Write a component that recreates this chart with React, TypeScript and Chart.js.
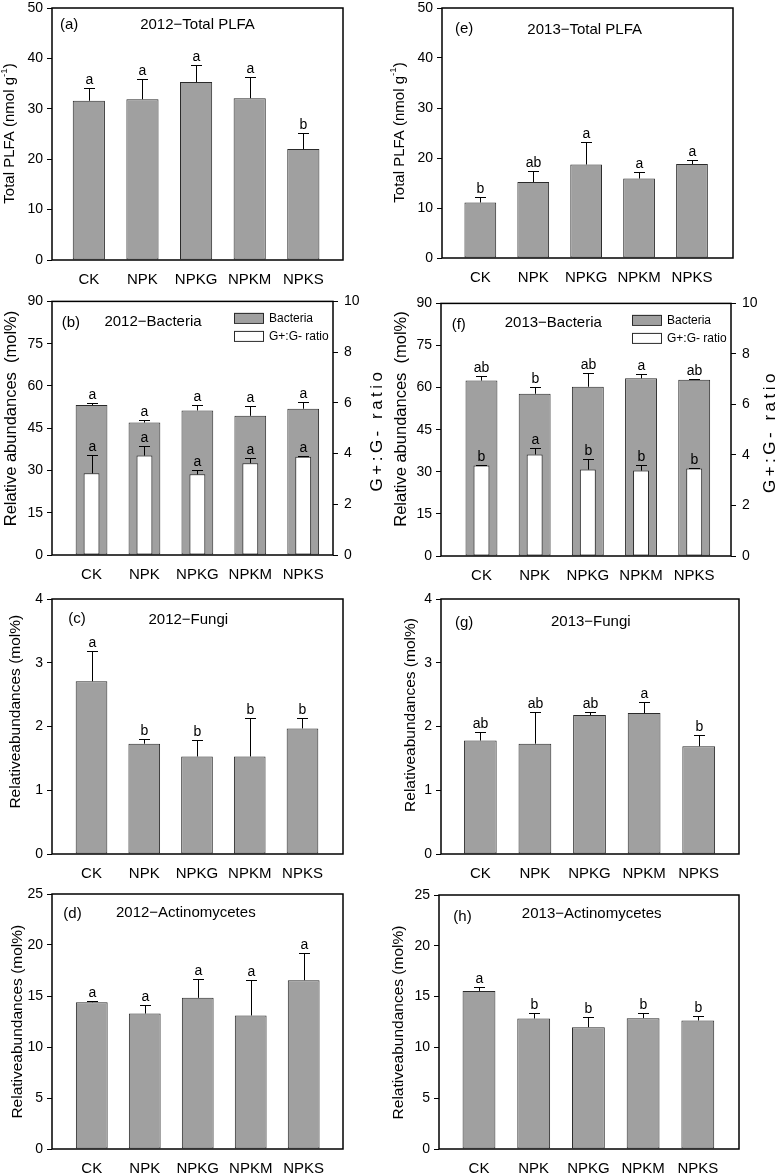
import React, { useEffect, useRef } from "react";
import { Chart, registerables } from "chart.js";

Chart.register(...registerables);

// ---------------- DATA ----------------
const categories = ["CK", "NPK", "NPKG", "NPKM", "NPKS"];

// (a) 2012 Total PLFA
const plfa2012 = [31.6, 31.9, 35.3, 32.1, 22.0];
const plfa2012Err = [2.6, 4.0, 3.3, 4.3, 3.2];
const plfa2012Sig = ["a", "a", "a", "a", "b"];

// (e) 2013 Total PLFA
const plfa2013 = [11.1, 15.2, 18.7, 15.9, 18.8];
const plfa2013Err = [1.1, 2.3, 4.5, 1.2, 0.8];
const plfa2013Sig = ["b", "ab", "a", "a", "a"];

// (b) 2012 Bacteria + G+:G- ratio
const bact2012 = [53.2, 47.0, 51.3, 49.4, 51.9];
const bact2012Err = [0.8, 1.0, 1.9, 3.5, 2.5];
const bact2012Sig = ["a", "a", "a", "a", "a"];
const ratio2012 = [3.22, 3.92, 3.18, 3.62, 3.87];
const ratio2012Err = [0.71, 0.36, 0.16, 0.21, 0.02];
const ratio2012Sig = ["a", "a", "a", "a", "a"];

// (f) 2013 Bacteria + G+:G- ratio
const bact2013 = [62.5, 57.8, 60.3, 63.3, 62.8];
const bact2013Err = [1.7, 2.3, 5.0, 1.6, 0.4];
const bact2013Sig = ["ab", "b", "ab", "a", "ab"];
const ratio2013 = [3.58, 4.02, 3.42, 3.38, 3.46];
const ratio2013Err = [0.02, 0.27, 0.42, 0.23, 0.02];
const ratio2013Sig = ["b", "a", "b", "b", "b"];

// (c) 2012 Fungi
const fungi2012 = [2.71, 1.73, 1.53, 1.53, 1.97];
const fungi2012Err = [0.48, 0.08, 0.26, 0.61, 0.16];
const fungi2012Sig = ["a", "b", "b", "b", "b"];

// (g) 2013 Fungi
const fungi2013 = [1.78, 1.73, 2.18, 2.21, 1.69];
const fungi2013Err = [0.13, 0.49, 0.04, 0.18, 0.18];
const fungi2013Sig = ["ab", "ab", "ab", "a", "b"];

// (d) 2012 Actinomycetes
const actino2012 = [14.39, 13.28, 14.82, 13.09, 16.55];
const actino2012Err = [0.13, 0.82, 1.82, 3.52, 2.67];
const actino2012Sig = ["a", "a", "a", "a", "a"];

// (h) 2013 Actinomycetes
const actino2013 = [15.56, 12.84, 11.99, 12.88, 12.65];
const actino2013Err = [0.4, 0.59, 1.02, 0.49, 0.45];
const actino2013Sig = ["a", "b", "b", "b", "b"];

// ---------------- STYLE / LAYOUT ----------------
const FONT = '"Liberation Sans", Arial, Helvetica, sans-serif';
const GRAY = "#a0a0a0";
const EDGE = "#2a2a2a";

type Seg = { t: string; sup?: boolean };
type Series = {
  name: string;
  values: number[];
  errors: number[];
  letters: string[];
  fill: string;
  axis: string;
  pct: number;
};
type PanelCfg = {
  col: number;
  area: { l: number; t: number; r: number; b: number };
  xr: [number, number];
  yMax: number;
  yStep: number;
  y2?: boolean;
  yTitle: Seg[];
  yTitleSize: number;
  yTitlePos: [number, number];
  y2TitlePos?: [number, number];
  label: string;
  labelPos: [number, number];
  title: string;
  titlePos: [number, number];
  series: Series[];
};

const plfaTitle: Seg[] = [{ t: "Total PLFA (nmol g" }, { t: "-1", sup: true }, { t: ")" }];
const bactTitle: Seg[] = [{ t: "Relative abundances  (mol%)" }];
const relTitle: Seg[] = [{ t: "Relativeabundances (mol%)" }];
const ratioTitle: Seg[] = [{ t: "G+:G- ratio" }];

const gray = (name: string, values: number[], errors: number[], letters: string[]): Series => ({
  name, values, errors, letters, fill: GRAY, axis: "y", pct: 0.6,
});
const white = (name: string, values: number[], errors: number[], letters: string[]): Series => ({
  name, values, errors, letters, fill: "#ffffff", axis: "y2", pct: 0.3,
});

const panels: PanelCfg[] = [
  {
    col: 0, area: { l: 52, t: 8, r: 343, b: 260 }, xr: [-0.687, 4.74], yMax: 50, yStep: 10,
    yTitle: plfaTitle, yTitleSize: 15, yTitlePos: [10, 133.5],
    label: "(a)", labelPos: [8, 17], title: "2012\u2212Total PLFA", titlePos: [145.5, 17],
    series: [gray("Total PLFA", plfa2012, plfa2012Err, plfa2012Sig)],
  },
  {
    col: 1, area: { l: 442, t: 8, r: 733, b: 258 }, xr: [-0.724, 4.775], yMax: 50, yStep: 10,
    yTitle: plfaTitle, yTitleSize: 15, yTitlePos: [399.5, 132.5],
    label: "(e)", labelPos: [13, 21], title: "2013\u2212Total PLFA", titlePos: [142.7, 22],
    series: [gray("Total PLFA", plfa2013, plfa2013Err, plfa2013Sig)],
  },
  {
    col: 0, area: { l: 52, t: 301, r: 333, b: 555 }, xr: [-0.747, 4.563], yMax: 90, yStep: 15, y2: true,
    yTitle: bactTitle, yTitleSize: 16.5, yTitlePos: [11, 418.5], y2TitlePos: [377, 431.7],
    label: "(b)", labelPos: [9.7, 21.3], title: "2012\u2212Bacteria", titlePos: [101, 20.7],
    series: [
      gray("Bacteria", bact2012, bact2012Err, bact2012Sig),
      white("G+:G- ratio", ratio2012, ratio2012Err, ratio2012Sig),
    ],
  },
  {
    col: 1, area: { l: 441, t: 303, r: 731, b: 556 }, xr: [-0.761, 4.692], yMax: 90, yStep: 15, y2: true,
    yTitle: bactTitle, yTitleSize: 16.5, yTitlePos: [401, 419], y2TitlePos: [770, 433.3],
    label: "(f)", labelPos: [10.7, 21], title: "2013\u2212Bacteria", titlePos: [112.3, 19.3],
    series: [
      gray("Bacteria", bact2013, bact2013Err, bact2013Sig),
      white("G+:G- ratio", ratio2013, ratio2013Err, ratio2013Sig),
    ],
  },
  {
    col: 0, area: { l: 52, t: 599, r: 343, b: 854 }, xr: [-0.749, 4.768], yMax: 4, yStep: 1,
    yTitle: relTitle, yTitleSize: 15.5, yTitlePos: [15.8, 711.7],
    label: "(c)", labelPos: [16.3, 20], title: "2012\u2212Fungi", titlePos: [136.3, 21],
    series: [gray("Fungi", fungi2012, fungi2012Err, fungi2012Sig)],
  },
  {
    col: 1, area: { l: 441, t: 599, r: 739, b: 854 }, xr: [-0.72, 4.738], yMax: 4, yStep: 1,
    yTitle: relTitle, yTitleSize: 15.5, yTitlePos: [410.8, 715],
    label: "(g)", labelPos: [14, 24.3], title: "2013\u2212Fungi", titlePos: [149.8, 23.3],
    series: [gray("Fungi", fungi2013, fungi2013Err, fungi2013Sig)],
  },
  {
    col: 0, area: { l: 52, t: 894, r: 343, b: 1149 }, xr: [-0.751, 4.742], yMax: 25, yStep: 5,
    yTitle: relTitle, yTitleSize: 15.5, yTitlePos: [17.5, 1021.7],
    label: "(d)", labelPos: [11.3, 20], title: "2012\u2212Actinomycetes", titlePos: [133.8, 19.3],
    series: [gray("Actinomycetes", actino2012, actino2012Err, actino2012Sig)],
  },
  {
    col: 1, area: { l: 439, t: 895, r: 739, b: 1149 }, xr: [-0.731, 4.753], yMax: 25, yStep: 5,
    yTitle: relTitle, yTitleSize: 15.5, yTitlePos: [399, 1022.5],
    label: "(h)", labelPos: [14.3, 21.7], title: "2013\u2212Actinomycetes", titlePos: [152.7, 19],
    series: [gray("Actinomycetes", actino2013, actino2013Err, actino2013Sig)],
  },
];

function drawRotatedSegs(
  ctx: CanvasRenderingContext2D,
  segs: Seg[],
  cx: number,
  cy: number,
  size: number,
  spacing = 0
) {
  const c: any = ctx;
  ctx.save();
  c.letterSpacing = `${spacing}px`;
  const parts = segs.map((s) => {
    const fs = s.sup ? size * 0.65 : size;
    ctx.font = `${fs}px ${FONT}`;
    return { ...s, fs, w: ctx.measureText(s.t).width };
  });
  const total = parts.reduce((a, p) => a + p.w, 0) - spacing;
  ctx.translate(cx, cy);
  ctx.rotate(-Math.PI / 2);
  ctx.fillStyle = "#000";
  ctx.textBaseline = "middle";
  ctx.textAlign = "left";
  let x = -total / 2;
  for (const p of parts) {
    ctx.font = `${p.fs}px ${FONT}`;
    ctx.fillText(p.t, x, p.sup ? -size * 0.38 : 0);
    x += p.w;
  }
  ctx.restore();
}

function Panel({ p }: { p: PanelCfg }) {
  const ref = useRef<HTMLCanvasElement>(null);
  const x0 = p.col === 0 ? 0 : 390;
  const w = p.col === 0 ? 390 : 389;
  const y0 = p.area.t - 14;
  const y1 = Math.min(p.area.b + 32, 1174);
  const h = y1 - y0;

  useEffect(() => {
    if (!ref.current) return;
    const leftW = p.area.l - x0;
    const rightW = x0 + w - p.area.r;
    const bottomH = y1 - p.area.b;

    const deco = {
      id: "deco" + p.label,
      afterDatasetsDraw(chart: any) {
        const ctx: CanvasRenderingContext2D = chart.ctx;
        ctx.save();
        p.series.forEach((s, i) => {
          const meta = chart.getDatasetMeta(i);
          const ys = chart.scales[s.axis];
          meta.data.forEach((el: any, j: number) => {
            const x = Math.round(el.x) + 0.5;
            const yb = ys.getPixelForValue(s.values[j]);
            const yt = Math.round(ys.getPixelForValue(s.values[j] + s.errors[j])) + 0.5;
            ctx.strokeStyle = "#000";
            ctx.lineWidth = 1;
            ctx.beginPath();
            ctx.moveTo(x, yb);
            ctx.lineTo(x, yt);
            ctx.moveTo(x - 5.5, yt);
            ctx.lineTo(x + 5.5, yt);
            ctx.stroke();
            ctx.fillStyle = "#000";
            ctx.font = `14px ${FONT}`;
            ctx.textAlign = "center";
            ctx.textBaseline = "alphabetic";
            ctx.fillText(s.letters[j], x, yt - 5);
          });
        });
        ctx.restore();
      },
      afterDraw(chart: any) {
        const ctx: CanvasRenderingContext2D = chart.ctx;
        const a = chart.chartArea;
        ctx.save();
        // frame
        ctx.strokeStyle = "#000";
        ctx.lineWidth = 1.5;
        ctx.strokeRect(a.left, a.top, a.right - a.left, a.bottom - a.top);
        // panel label and title
        ctx.fillStyle = "#000";
        ctx.font = `15px ${FONT}`;
        ctx.textBaseline = "middle";
        ctx.textAlign = "left";
        ctx.fillText(p.label, a.left + p.labelPos[0], a.top + p.labelPos[1]);
        ctx.textAlign = "center";
        ctx.fillText(p.title, a.left + p.titlePos[0], a.top + p.titlePos[1]);
        // axis titles
        drawRotatedSegs(ctx, p.yTitle, p.yTitlePos[0] - x0, p.yTitlePos[1] - y0, p.yTitleSize);
        if (p.y2 && p.y2TitlePos) {
          drawRotatedSegs(ctx, ratioTitle, p.y2TitlePos[0] - x0, p.y2TitlePos[1] - y0, 17, 3.5);
        }
        // legend
        if (p.y2) {
          const bx = a.right - 99;
          let by = a.top + 11.5;
          p.series.forEach((s) => {
            ctx.fillStyle = s.fill;
            ctx.fillRect(bx, by, 29, 10);
            ctx.strokeStyle = EDGE;
            ctx.lineWidth = 1;
            ctx.strokeRect(bx + 0.5, by + 0.5, 29, 10);
            ctx.fillStyle = "#000";
            ctx.font = `12px ${FONT}`;
            ctx.textAlign = "left";
            ctx.textBaseline = "middle";
            ctx.fillText(s.name, bx + 35, by + 5.5);
            by += 18;
          });
        }
        ctx.restore();
      },
    };

    const datasets = p.series.map((s, i) => ({
      label: s.name,
      data: s.values.map((v, j) => ({ x: j, y: v })),
      backgroundColor: s.fill,
      borderColor: EDGE,
      borderWidth: 1,
      borderSkipped: false,
      barPercentage: s.pct,
      categoryPercentage: 1,
      grouped: false,
      order: i === 0 ? 1 : 0,
      yAxisID: s.axis,
    }));

    const scales: any = {
      x: {
        type: "linear",
        offset: false,
        min: p.xr[0],
        max: p.xr[1],
        afterBuildTicks: (sc: any) => {
          sc.ticks = categories.map((_, i) => ({ value: i }));
        },
        afterFit: (sc: any) => {
          sc.height = bottomH;
        },
        ticks: {
          callback: (v: number) => categories[v] ?? "",
          autoSkip: false,
          maxRotation: 0,
          minRotation: 0,
          padding: 3,
          color: "#000",
          font: { family: FONT, size: 15 },
        },
        grid: { display: false, offset: false },
        border: { display: false },
      },
      y: {
        position: "left",
        min: 0,
        max: p.yMax,
        afterFit: (sc: any) => {
          sc.width = leftW;
        },
        ticks: {
          stepSize: p.yStep,
          padding: 4,
          color: "#000",
          font: { family: FONT, size: 14 },
        },
        grid: { drawOnChartArea: false, drawTicks: true, tickLength: 5, color: "#000", lineWidth: 1 },
        border: { display: false },
      },
    };
    if (p.y2) {
      scales.y2 = {
        position: "right",
        min: 0,
        max: 10,
        afterFit: (sc: any) => {
          sc.width = rightW;
        },
        ticks: {
          stepSize: 2,
          padding: 6,
          color: "#000",
          font: { family: FONT, size: 14 },
        },
        grid: { drawOnChartArea: false, drawTicks: true, tickLength: 5, color: "#000", lineWidth: 1 },
        border: { display: false },
      };
    }

    const chart = new Chart(ref.current, {
      type: "bar",
      data: { datasets: datasets as any },
      options: {
        responsive: false,
        animation: false,
        devicePixelRatio: 1,
        layout: { padding: { top: 14, left: 0, bottom: 0, right: p.y2 ? 0 : rightW } },
        plugins: { legend: { display: false }, tooltip: { enabled: false }, title: { display: false } },
        scales,
      } as any,
      plugins: [deco as any],
    });
    return () => chart.destroy();
  }, []);

  return (
    <canvas
      ref={ref}
      width={w}
      height={h}
      style={{ position: "absolute", left: x0, top: y0, width: w, height: h }}
    />
  );
}

export default function App() {
  return (
    <div
      style={{
        position: "absolute",
        left: 0,
        top: 0,
        width: 779,
        height: 1174,
        overflow: "hidden",
        background: "#fff",
      }}
    >
      {panels.map((p, i) => (
        <Panel key={i} p={p} />
      ))}
    </div>
  );
}
